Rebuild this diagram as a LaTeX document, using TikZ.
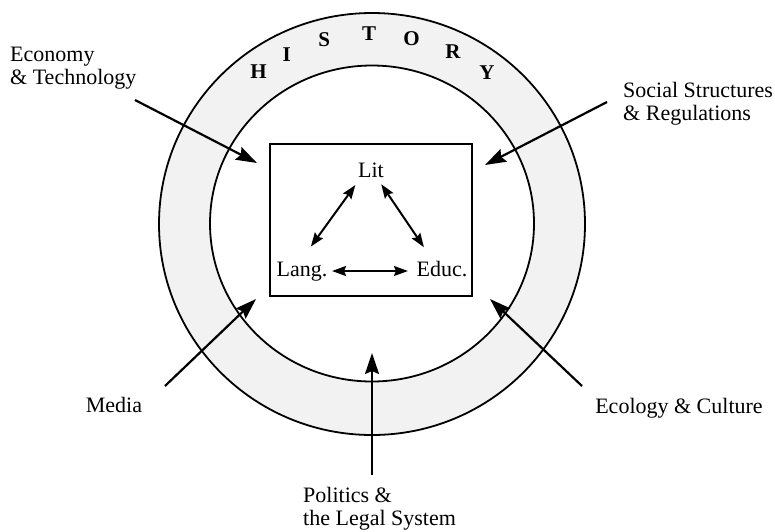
\documentclass[tikz,border=0pt]{standalone}
\usepackage{fontspec}
\setmainfont{Liberation Serif}
\usetikzlibrary{arrows.meta,shapes.geometric}
\begin{document}
\begin{tikzpicture}[x=1pt,y=-1pt,
  lbl/.style={font=\fontsize{22}{23}\selectfont, inner sep=0pt, align=left},
  inlbl/.style={font=\fontsize{22}{23}\selectfont, inner sep=2pt, text height=15pt, text depth=5pt},
  hist/.style={font=\fontsize{21}{22}\selectfont\bfseries, inner sep=0pt},
  bigarrow/.style={line width=2.2pt, -{Stealth[length=21pt,width=14pt,inset=3pt]}},
  smallarrow/.style={line width=2pt, {Stealth[length=14pt,width=10pt,inset=2pt]}-{Stealth[length=14pt,width=10pt,inset=2pt]}},
  ringline/.style={draw, ellipse, line width=1.8pt, inner sep=0pt}
]
\useasboundingbox (0,0) rectangle (775,531);
\fill[white] (0,0) rectangle (775,531);

% rings
\node[ringline, fill=black!5, minimum width=426pt, minimum height=422pt] (outer) at (372,224) {};
\node[ringline, fill=white, minimum width=324pt, minimum height=316pt] (inner) at (372,223.5) {};

% HISTORY letters
\foreach \l/\a in {H/126.7, I/116.7, S/104.6, T/90.9, O/78, R/64.8, Y/52.8}
  \node[hist] (h\l) at ([shift={(-\a:190)}]372,224) {\l};

% central box
\node[draw, line width=1.8pt, minimum width=202pt, minimum height=152pt, inner sep=0pt] (box) at (371,220) {};

% inner labels
\node[inlbl, anchor=base] (lit) at (371,177) {Lit};
\node[inlbl, anchor=base] (lang) at (302,276) {Lang.};
\node[inlbl, anchor=base] (educ) at (442,276) {Educ.};

\draw[smallarrow, shorten <=1pt, shorten >=15pt] (lit.south west) -- (lang.north);
\draw[smallarrow, shorten >=14pt] (lit.-50) -- (educ.130);
\draw[smallarrow, shorten <=2.5pt, shorten >=6.5pt] (lang.east) -- (educ.west);

% outer labels
\node[lbl, anchor=north west] (econ) at (10,47) {Economy\\\& Technology};
\node[lbl, anchor=north west] (soc) at (623,82) {Social Structures\\\& Regulations};
\node[lbl, anchor=north] (media) at (114,397) {Media};
\node[lbl, anchor=north] (eco) at (679,398) {Ecology \& Culture};
\node[lbl, anchor=north west] (pol) at (303,487) {Politics \&\\the Legal System};

% arrow ends
\coordinate (econS) at (135,100);  \coordinate (econT) at (257,163);
\coordinate (socS)  at (607,102);  \coordinate (socT)  at (485,165);
\coordinate (medS)  at (165,386);  \coordinate (medT)  at (256,299);
\coordinate (ecoS)  at (582,386);  \coordinate (ecoT)  at (490,299);
\coordinate (polS)  at (372,475);  \coordinate (polT)  at (372,353);

\draw[bigarrow] (econS) -- (econT);
\draw[bigarrow] (socS) -- (socT);
\draw[bigarrow] (medS) -- (medT);
\draw[bigarrow] (ecoS) -- (ecoT);
\draw[bigarrow] (polS) -- (polT);
\end{tikzpicture}
\end{document}
